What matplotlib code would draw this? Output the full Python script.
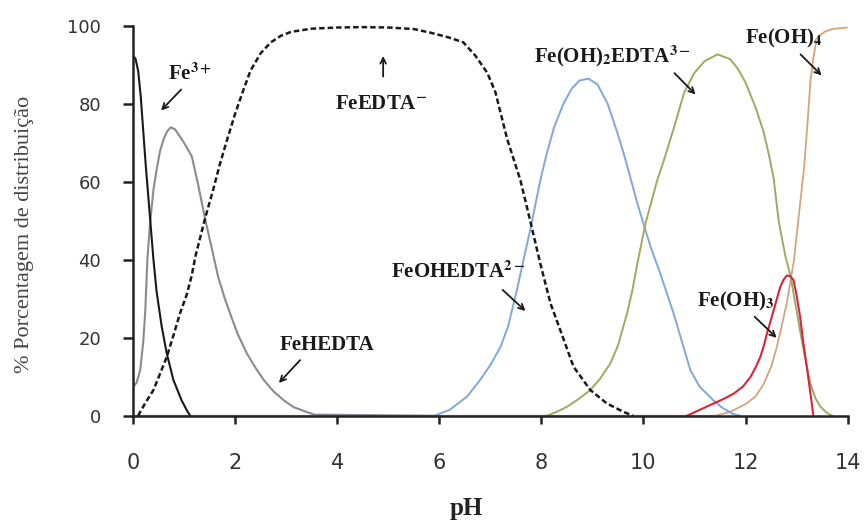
import matplotlib
matplotlib.use("Agg")
import matplotlib.pyplot as plt

plt.rcParams['mathtext.fontset'] = 'stix'

# Fe3+
ph_fe3 = [0, 0.05, 0.1, 0.15, 0.2, 0.25, 0.3, 0.35, 0.4, 0.46, 0.56, 0.66, 0.79, 0.95, 1.05, 1.12]
fe3 = [92.5, 91.5, 88.5, 82, 73, 64, 56, 48, 40, 32, 23, 16, 9.2, 4, 1.5, 0]

# FeHEDTA
ph_fehedta = [0, 0.07, 0.14, 0.2, 0.24, 0.28, 0.33, 0.4, 0.46, 0.53, 0.6, 0.67, 0.74, 0.82, 0.9,
              1.0, 1.15, 1.28, 1.41, 1.55, 1.67, 1.8, 1.9, 2.05, 2.23, 2.4, 2.56, 2.75, 2.95,
              3.15, 3.4, 3.55, 6.0]
fehedta = [7.4, 8.5, 11.7, 19, 27, 40, 49, 58, 63, 68, 71, 73, 74, 73.5, 72,
           70, 66.6, 59, 50.6, 42.5, 35.5, 30, 26.3, 21, 16, 12.3, 9.2, 6.3, 4,
           2.2, 1, 0.3, 0]

# FeEDTA-
ph_feedta = [0.1, 0.14, 0.25, 0.4, 0.52, 0.66, 0.8, 0.92, 1.05, 1.15, 1.22, 1.41, 1.57, 1.7,
             1.84, 2.0, 2.16, 2.3, 2.5, 2.7, 2.9, 3.1, 3.5, 4.0, 4.5, 5.0, 5.5, 5.82, 6.2,
             6.47, 6.7, 6.94, 7.1, 7.33, 7.59, 7.78, 7.98, 8.18, 8.37, 8.63, 8.96, 9.28,
             9.61, 9.8]
feedta = [0, 1, 3.5, 6.6, 10.5, 15.1, 21, 26.3, 31, 36, 40.8, 50.6, 58, 64.5,
          70.7, 77.5, 83.5, 88.5, 93, 95.8, 97.5, 98.5, 99.3, 99.6, 99.7, 99.6, 99.2, 98.3, 97,
          95.8, 92.5, 88, 83, 71, 60.4, 50.1, 39, 28.8, 22, 12.6, 6.6, 3.2,
          1, 0]

# FeOHEDTA2-
ph_feohedta = [5.9, 6.2, 6.55, 6.8, 7.0, 7.2, 7.35, 7.52, 7.65, 7.78, 7.98, 8.1, 8.25, 8.43,
               8.6, 8.75, 8.92, 9.1, 9.3, 9.48, 9.62, 9.74, 9.87, 10.03, 10.15, 10.33, 10.59,
               10.8, 10.92, 11.1, 11.37, 11.55, 11.75, 11.9]
feohedta = [0, 1.5, 5, 9.2, 13, 17.7, 23, 32.2, 40, 47.6, 60.4, 67, 74, 80,
            84, 86, 86.5, 85, 80, 73, 67, 61.3, 55, 48, 43, 36.5, 26.3,
            17, 11.7, 7.5, 4, 2, 0.5, 0]

# Fe(OH)2EDTA3-
ph_feoh2edta = [8.1, 8.3, 8.5, 8.75, 8.96, 9.15, 9.35, 9.5, 9.68, 9.78, 9.88, 10.04, 10.27,
                10.4, 10.6, 10.8, 11.0, 11.2, 11.45, 11.7, 11.85, 12.0, 12.2, 12.35, 12.45,
                12.55, 12.65, 12.78, 12.88, 13.0, 13.08, 13.18, 13.27, 13.37, 13.47, 13.6, 13.7]
feoh2edta = [0, 1, 2.3, 4.5, 6.6, 9.5, 13.4, 18, 26.3, 32, 39, 49.3, 60.4,
             65.5, 74, 83, 88, 91, 92.7, 91.5, 89, 85.5, 79, 73, 67.5,
             61, 50, 41, 36, 27, 21, 14, 8.3, 4.5, 2.3, 0.7, 0]

# Fe(OH)3
ph_feoh3 = [10.85, 11.1, 11.38, 11.6, 11.77, 11.95, 12.1, 12.2, 12.29, 12.36, 12.42, 12.55,
            12.68, 12.75, 12.81, 12.88, 12.94, 13.0, 13.07, 13.13, 13.2, 13.27, 13.33]
feoh3 = [0, 1.5, 3.2, 4.5, 5.7, 7.5, 10, 12.5, 15.1, 18, 21.1, 27,
         33, 35, 36, 35.8, 34.8, 31, 25.4, 19, 12.6, 6, 0]

# Fe(OH)4-
ph_feoh4 = [0, 11.4, 11.7, 12.0, 12.2, 12.35, 12.5, 12.6, 12.7, 12.81, 12.9, 12.95, 13.05,
            13.15, 13.22, 13.27, 13.32, 13.37, 13.45, 13.55, 13.7, 13.98]
feoh4 = [0, 0, 1, 3, 5, 8, 12.5, 17, 22.5, 29, 36, 40, 52,
         64, 76, 85.5, 91, 95, 97.5, 98.5, 99.2, 99.6]

fig = plt.figure(figsize=(8.64, 5.25), dpi=100)
ax = fig.add_axes([0.154, 0.208, 0.827, 0.75])

ax.plot(ph_feoh4, feoh4, color='#d6a47c', lw=1.3)
ax.plot(ph_fehedta, fehedta, color='#8a8a94', lw=1.5)
ax.plot(ph_feohedta, feohedta, color='#80a8d8', lw=1.4)
ax.plot(ph_feoh2edta, feoh2edta, color='#9dab62', lw=1.4)
ax.plot(ph_feoh3, feoh3, color='#d8253c', lw=1.5)
ax.plot(ph_fe3, fe3, color='#1a1a1a', lw=1.5)
ax.plot(ph_feedta, feedta, color='#1a1a1a', lw=1.8, dashes=(2.2, 1.2))

ax.set_xlim(0, 14)
ax.set_ylim(0, 101)
ax.set_xticks(range(0, 15, 2))
ax.set_yticks(range(0, 101, 20))
ax.spines['top'].set_visible(False)
ax.spines['right'].set_visible(False)
for s in ['left', 'bottom']:
    ax.spines[s].set_linewidth(1.8)
    ax.spines[s].set_color('#222222')
ax.spines['left'].set_bounds(0, 100)
ax.tick_params(axis='y', direction='out', length=7, width=1.8, pad=16, labelsize=13,
               labelcolor='#333333', color='#222222')
ax.tick_params(axis='x', direction='out', length=6, width=1.8, pad=21, labelsize=15,
               labelcolor='#333333', color='#222222')

ax.set_ylabel('% Porcentagem de distribuição', fontfamily='Liberation Serif',
              fontsize=16, color='#444444')
ax.yaxis.set_label_coords(-0.138, 0.46)
ax.set_xlabel('pH', fontfamily='Liberation Serif', fontweight='bold', fontsize=18,
              color='#222222')
ax.xaxis.set_label_coords(0.466, -0.205)

# Подписи со стрелками
labels = [
    (r'Fe$^{\mathbf{3+}}$', (1.12, 87.6), (0.98, 84.2), (0.51, 77.8)),
    (r'FeEDTA$^{\mathbf{-}}$', (4.86, 80.0), (4.9, 86.3), (4.9, 93.0)),
    (r'Fe(OH)$_{\mathbf{2}}$EDTA$^{\mathbf{3-}}$', (9.39, 92.2), (10.57, 88.4), (11.06, 81.9)),
    (r'Fe(OH)$_{\mathbf{4}}$', (12.75, 96.8), (13.04, 93.2), (13.53, 86.8)),
    (r'FeOHEDTA$^{\mathbf{2-}}$', (6.37, 36.9), (7.2, 32.8), (7.73, 26.4)),
    ('FeHEDTA', (3.8, 18.2), (3.31, 14.8), (2.82, 7.9)),
    (r'Fe(OH)$_{\mathbf{3}}$', (11.8, 29.2), (12.14, 25.9), (12.65, 19.5)),
]
for text, pos, tail, head in labels:
    ax.text(pos[0], pos[1], text, ha='center', va='center', fontfamily='Liberation Serif',
            fontweight='bold', fontsize=15, color='#1a1a1a')
    ax.annotate('', xy=head, xytext=tail,
                arrowprops=dict(arrowstyle='->', color='#1a1a1a', lw=1.3))

fig.savefig('out.png', dpi=100)
